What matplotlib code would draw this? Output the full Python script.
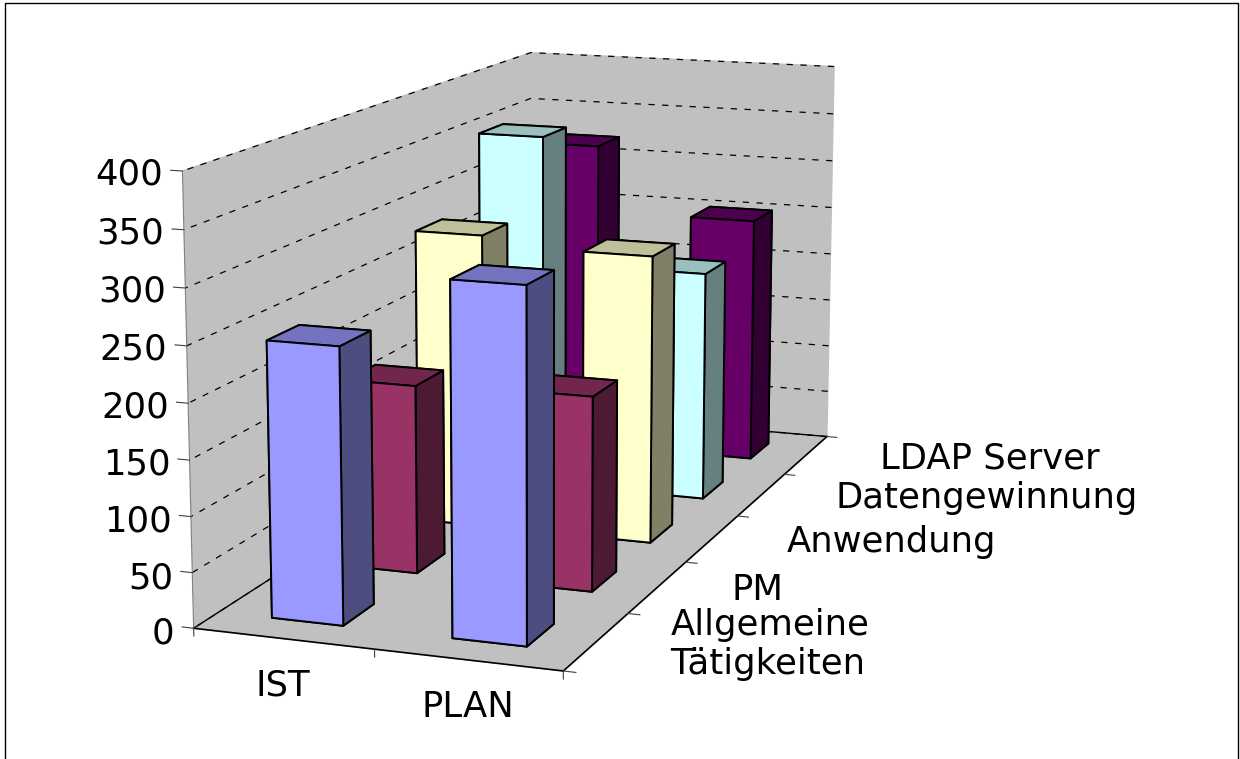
import numpy as np
import matplotlib
matplotlib.use("Agg")
import matplotlib.pyplot as plt
from matplotlib.patches import Rectangle
from mpl_toolkits.mplot3d import proj3d

plt.rcParams["font.family"] = ["DejaVu Sans"]

phases = ["IST", "PLAN"]
tasks = ["Allgemeine\nTätigkeiten", "PM", "Anwendung", "Datengewinnung", "LDAP Server"]
allgemein = [248, 313]
pm = [176, 180]
anwendung = [285, 276]
daten = [355, 228]
ldap = [321, 252]
z_ticks = [0, 50, 100, 150, 200, 250, 300, 350, 400]

# front / top / side colours, Excel style
front = ["#9999FF", "#993366", "#FFFFCC", "#CCFFFF", "#660066"]
top = ["#7373BF", "#73264D", "#BFBF99", "#99BFBF", "#4D004D"]
side = ["#4D4D80", "#4D1A33", "#808066", "#668080", "#330033"]

series = [allgemein, pm, anwendung, daten, ldap]
n_x, n_y = len(phases), len(tasks)
FS = 25.5

fig = plt.figure(figsize=(12.4, 7.59), dpi=100)
side_px = 1007.4
ax = fig.add_axes([27.45 / 1240, -78.6 / 759, side_px / 1240, side_px / 759], projection="3d")
ax.patch.set_alpha(0)
ax.computed_zorder = False
ax.view_init(elev=12.05, azim=-70.01)
ax.set_proj_type("persp", focal_length=0.5746)
ax.set_box_aspect((1, 2.484, 1.179))
ax.set_xlim(0, n_x)
ax.set_ylim(0, n_y)
ax.set_zlim(0, 400)

wx, wy = 0.4, 0.4
z = 10
for j in range(n_y - 1, -1, -1):
    for i in range(n_x):
        # faces: bottom, top, -y, +y, -x, +x
        cols = [side[j], top[j], front[j], side[j], side[j], side[j]]
        ax.bar3d(i + 0.5 - wx / 2, j + 0.5 - wy / 2, 0, wx, wy, series[j][i],
                 color=cols, shade=False, edgecolor="black", linewidth=1.4, zorder=z)
        z += 1

for axis in (ax.xaxis, ax.yaxis, ax.zaxis):
    axis.set_pane_color("#C0C0C0")
    axis.pane.set_edgecolor("#C0C0C0")
    axis._axinfo["tick"]["inward_factor"] = 0
    axis._axinfo["tick"]["outward_factor"] = 0
ax.xaxis._axinfo["grid"]["color"] = (0, 0, 0, 0)
ax.yaxis._axinfo["grid"]["color"] = (0, 0, 0, 0)
ax.zaxis._axinfo["grid"].update(color="black", linewidth=0.9, linestyle=(0, (5, 6)))
ax.zaxis.line.set_color("#808080")
ax.zaxis.line.set_linewidth(0.8)
ax.xaxis.line.set_color("black")
ax.yaxis.line.set_color("black")
ax.xaxis.line.set_linewidth(1.2)
ax.yaxis.line.set_linewidth(1.2)

ax.set_xticks([])
ax.set_yticks([])
ax.set_zticks(z_ticks)
ax.set_zticklabels([str(v) for v in z_ticks], fontsize=FS, ha="right", va="center")
ax.zaxis.set_ticks_position("lower")
ax.zaxis.set_tick_params(pad=1)

# floor outline and the tick marks at category borders
ax.plot([0, 0, n_x], [0, n_y, n_y], [0, 0, 0], color="black", lw=1, zorder=3)
for i in range(n_x + 1):
    ax.plot([i, i], [0, 0], [0, -7], color="#404040", lw=0.8, zorder=3)
for j in range(n_y + 1):
    ax.plot([n_x, n_x + 0.065], [j, j], [0, 0], color="#404040", lw=0.8, zorder=3)
for v in z_ticks:
    ax.plot([0, -0.065], [0, 0], [v, v], color="#404040", lw=0.8, zorder=3)


def label_at(x, y, text, dx, dy, **kw):
    px, py, _ = proj3d.proj_transform(x, y, 0, ax.get_proj())
    ax.annotate(text, (px, py), xytext=(dx, dy), textcoords="offset pixels",
                annotation_clip=False, fontsize=FS, va="center", **kw)


for i, name in enumerate(phases):
    label_at(i + 0.5, 0, name, 0, -47, ha="center")
for j, name in enumerate(tasks):
    label_at(n_x, j + 0.5, name, 74, -3, ha="left")

fig.add_artist(Rectangle((5 / 1240, -0.05), 1233 / 1240, 1.05 - 3 / 759, transform=fig.transFigure,
                         fill=False, ec="black", lw=1))
fig.savefig("out.png", dpi=100)
